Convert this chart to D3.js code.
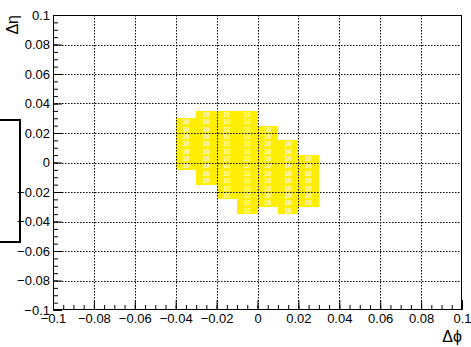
<!DOCTYPE html>
<html>
<head>
<meta charset="utf-8">
<script src="https://cdn.jsdelivr.net/npm/d3@7"></script>
<style>
  html, body { margin: 0; padding: 0; background: #fff; }
  svg { display: block; font-family: "Liberation Sans", Arial, Helvetica, sans-serif; }
</style>
</head>
<body>
<svg id="chart" width="471" height="347"></svg>
<script>
// Δφ bins (lower edges) of the filled columns, width 0.01
const phiLow = [-0.04, -0.03, -0.02, -0.01, 0.00, 0.01, 0.02];
// filled Δη range of each column, bins of 0.005
const etaLow  = [-0.005, -0.015, -0.025, -0.035, -0.030, -0.035, -0.030];
const etaHigh = [ 0.030,  0.035,  0.035,  0.035,  0.025,  0.015,  0.005];
// entries per filled bin
const binContent = [10, 10, 10, 10, 10, 10, 10];
const phiBinWidth = 0.01;
const etaBinWidth = 0.005;

// axis ticks
const phiTicks = [-0.1, -0.08, -0.06, -0.04, -0.02, 0, 0.02, 0.04, 0.06, 0.08, 0.1];
const etaTicks = [-0.1, -0.08, -0.06, -0.04, -0.02, 0, 0.02, 0.04, 0.06, 0.08, 0.1];
const minorStep = 0.005;

const svg = d3.select("#chart");
const frame = { left: 53, right: 462, top: 15, bottom: 310 };

const x = d3.scaleLinear().domain([-0.1, 0.1]).range([frame.left, frame.right]);
const y = d3.scaleLinear().domain([-0.1, 0.1]).range([frame.bottom, frame.top]);

// expand each column's range into individual cells
const cells = [];
phiLow.forEach((p, i) => {
  const n = Math.round((etaHigh[i] - etaLow[i]) / etaBinWidth);
  for (let k = 0; k < n; k++) {
    const e0 = etaLow[i] + k * etaBinWidth;
    cells.push({ phi0: p, phi1: p + phiBinWidth, eta0: e0, eta1: e0 + etaBinWidth, v: binContent[i] });
  }
});

// partially visible box at the left border
svg.append("rect")
  .attr("x", -10).attr("y", 120).attr("width", 30).attr("height", 122)
  .attr("fill", "none").attr("stroke", "#000").attr("stroke-width", 2);

// histogram cells
svg.append("g").selectAll("rect").data(cells).join("rect")
  .attr("x", d => x(d.phi0))
  .attr("y", d => y(d.eta1))
  .attr("width", d => x(d.phi1) - x(d.phi0))
  .attr("height", d => y(d.eta0) - y(d.eta1))
  .attr("fill", "#ffee00")
  .attr("shape-rendering", "crispEdges");

// bin content labels
svg.append("g").selectAll("text").data(cells).join("text")
  .attr("x", d => (x(d.phi0) + x(d.phi1)) / 2)
  .attr("y", d => (y(d.eta0) + y(d.eta1)) / 2)
  .attr("dy", "0.36em")
  .attr("text-anchor", "middle")
  .attr("font-size", 6.3)
  .attr("font-weight", "bold")
  .attr("fill", "#fffbd8")
  .text(d => d.v);

// dotted grid at major ticks
const grid = svg.append("g").attr("stroke", "#000").attr("stroke-width", 1)
  .attr("stroke-dasharray", "1.5,1.5");
grid.selectAll("line.v").data(phiTicks.slice(1, -1)).join("line")
  .attr("class", "v")
  .attr("x1", d => Math.round(x(d)) + 0.5).attr("x2", d => Math.round(x(d)) + 0.5)
  .attr("y1", frame.top).attr("y2", frame.bottom);
grid.selectAll("line.h").data(etaTicks.slice(1, -1)).join("line")
  .attr("class", "h")
  .attr("y1", d => Math.round(y(d)) + 0.5).attr("y2", d => Math.round(y(d)) + 0.5)
  .attr("x1", frame.left).attr("x2", frame.right);

const fmt = v => (v === 0 ? "0" : d3.format("~g")(v));
const minorVals = d3.range(-0.1, 0.1 + 1e-9, minorStep).map(v => +v.toFixed(4));

// x axis (ticks pointing into the frame)
const xMinor = d3.axisBottom(x).tickValues(minorVals).tickSizeInner(-5).tickSizeOuter(0).tickFormat("");
const xMajor = d3.axisBottom(x).tickValues(phiTicks).tickSizeInner(-10).tickSizeOuter(0)
  .tickPadding(4).tickFormat(fmt);
const gxm = svg.append("g").attr("transform", `translate(0,${frame.bottom})`).call(xMinor);
const gx = svg.append("g").attr("transform", `translate(0,${frame.bottom})`).call(xMajor);

// y axis
const yMinor = d3.axisLeft(y).tickValues(minorVals).tickSizeInner(-5).tickSizeOuter(0).tickFormat("");
const yMajor = d3.axisLeft(y).tickValues(etaTicks).tickSizeInner(-9).tickSizeOuter(0)
  .tickPadding(3).tickFormat(fmt);
const gym = svg.append("g").attr("transform", `translate(${frame.left},0)`).call(yMinor);
const gy = svg.append("g").attr("transform", `translate(${frame.left},0)`).call(yMajor);

[gxm, gx, gym, gy].forEach(g => {
  g.select(".domain").remove();
  g.selectAll("line").attr("stroke", "#000");
  g.selectAll("text").attr("font-size", 13).attr("fill", "#000")
    .attr("font-family", "Liberation Sans, Arial, sans-serif");
});

// frame
svg.append("rect")
  .attr("x", frame.left + 0.5).attr("y", frame.top + 0.5)
  .attr("width", frame.right - frame.left - 1).attr("height", frame.bottom - frame.top - 1)
  .attr("fill", "none").attr("stroke", "#000").attr("stroke-width", 1);

// axis titles
svg.append("text")
  .attr("x", frame.right).attr("y", 342)
  .attr("text-anchor", "end").attr("font-size", 16).attr("fill", "#000")
  .text("Δϕ");
svg.append("text")
  .attr("transform", `translate(18,${frame.top}) rotate(-90)`)
  .attr("text-anchor", "end").attr("font-size", 16).attr("fill", "#000")
  .text("Δη");
</script>
</body>
</html>
